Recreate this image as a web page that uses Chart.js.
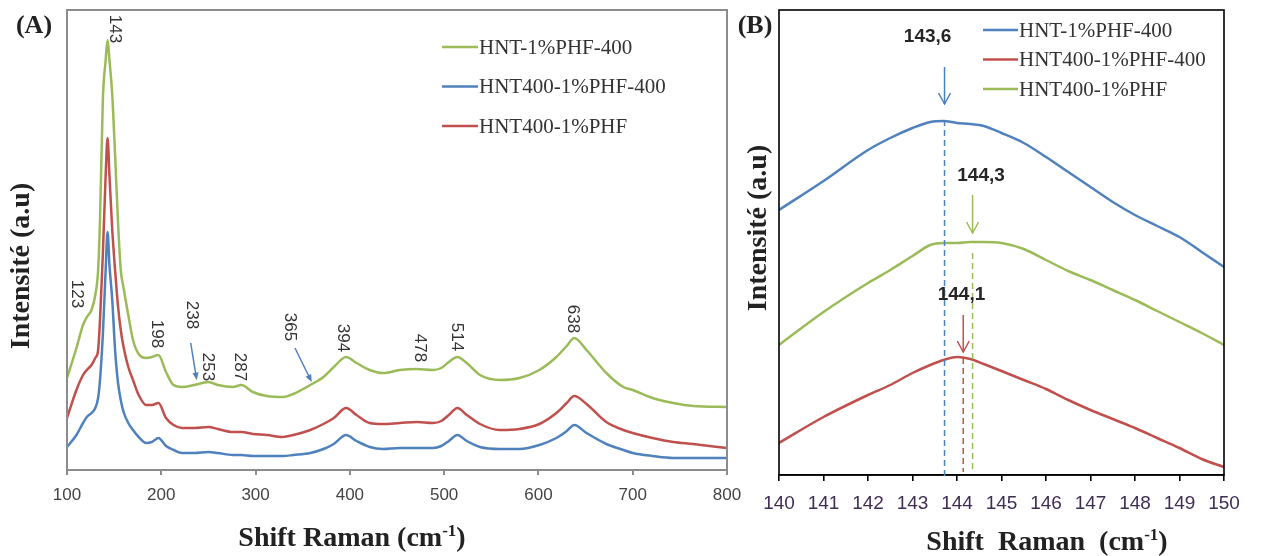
<!DOCTYPE html>
<html>
<head>
<meta charset="utf-8">
<script src="https://cdn.jsdelivr.net/npm/chart.js@4.4.1/dist/chart.umd.min.js"></script>
<style>
  html, body { margin: 0; padding: 0; background: #ffffff; }
  #wrap { position: relative; width: 1266px; height: 556px; overflow: hidden; }
  #wrap canvas { position: absolute; left: 0; top: 0; }
</style>
</head>
<body>
<div id="wrap">
  <canvas id="chartA" width="1266" height="556"></canvas>
  <canvas id="chartB" width="1266" height="556"></canvas>
</div>
<script>
// ---------- Panel (A) data ----------
const ramanShiftA = [100,110,117,121,126,130,133,135,138,141,143,145,148,151,154,157,160,165,170,176,184,190,197,205,213,222,235,250,260,276,285,297,312,329,340,358,372,383,396,407,421,435,453,471,488,497,505,514,524,538,559,580,601,619,630,638,651,672,690,700,721,743,764,800];
const hnt1Phf400A = [92,122,145,153,160,175,200,250,370,410,430,410,375,315,250,200,182,155,130,116,112,113,115,98,85,83,85,88,85,83,85,78,74,73,76,85,93,103,113,107,100,97,100,101,100,102,108,113,107,95,90,92,100,113,124,132,120,97,83,80,72,67,64,63];
const hnt400Phf400A = [23,35,47,53,57,62,72,90,135,200,238,205,170,120,88,70,58,47,40,33,27,28,32,24,20,17,17,18,17,15,15,14,14,14,15,17,21,26,35,29,23,21,22,22,22,24,29,35,29,23,21,21,25,32,39,45,37,26,20,17,14,12,12,12];
const hnt400PhfA = [52,80,95,100,105,112,120,150,215,295,332,295,240,200,165,140,123,103,90,75,65,65,67,52,45,42,42,43,41,38,38,36,35,33,35,40,46,52,62,55,47,46,47,48,47,49,55,62,55,46,40,41,46,57,67,74,66,48,40,37,32,28,26,22];
const seriesNamesA = ['HNT-1%PHF-400','HNT400-1%PHF-400','HNT400-1%PHF'];
const xTicksA = [100,200,300,400,500,600,700,800];
const peakLabelsA = ['143','123','198','238','253','287','365','394','478','514','638'];
const peakLabelXA = [150.9,110.6,195.4,232.6,249.5,283.5,336.5,392.7,474.4,513.6,636.6];
const peakLabelYA = [441,176,136,155,103,103,143,132,122,133,151];
const arrowFromXA = [231.2,341.8], arrowFromYA = [127,122];
const arrowToXA = [237.6,359.5],   arrowToYA = [90,88];

// ---------- Panel (B) data ----------
const ramanShiftB = [140,141,142,142.5,143,143.4,143.7,144,144.3,144.6,145,145.5,146,146.5,147,147.5,148,148.5,149,149.5,150];
const hnt1Phf400B = [265,294,325,337,347,353,354,352,351,349,342,332,318,303,288,273,260,249,238,223,208];
const hnt400Phf400B = [32,58,80,90,102,110,115,118,116,111,104,95,86,75,65,56,47,37,27,16,8];
const hnt400PhfB = [130,163,192,205,219,230,232,232,233,233,232,226,215,204,195,185,175,164,153,142,130];
const seriesNamesB = ['HNT-1%PHF-400','HNT400-1%PHF-400','HNT400-1%PHF'];
const xTicksB = [140,141,142,143,144,145,146,147,148,149,150];
const peakTextB = ['143,6','144,3','144,1'];
const peakShiftB = [143.72,144.35,144.14];     // dashed line positions
const peakTopB = [355,222,117];                // top of the dashed lines
const peakLabelXB = [143.34,144.54,144.1];
const peakLabelYB = [438,299,180];
const peakArrowTopB = [408,280,160];
const peakArrowTipB = [371,242,123];

const BLUE = '#4F81BD', RED = '#C0504D', GREEN = '#9BBB59';

function pts(xs, ys) { return xs.map((x, i) => ({ x: x, y: ys[i] })); }

function drawSupTitle(ctx, cx, cy, main, sup, tail, size, gap) {
  ctx.save();
  ctx.fillStyle = '#222';
  ctx.textBaseline = 'alphabetic';
  ctx.textAlign = 'left';
  const f1 = 'bold ' + size + 'px "Liberation Serif"';
  const f2 = 'bold ' + Math.round(size * 0.6) + 'px "Liberation Serif"';
  ctx.font = f1;
  const mainText = main.replace(/ /g, gap);
  const w1 = ctx.measureText(mainText).width;
  const w3 = ctx.measureText(tail).width;
  ctx.font = f2;
  const w2 = ctx.measureText(sup).width;
  let x = cx - (w1 + w2 + w3) / 2;
  const base = cy + size * 0.33;
  ctx.font = f1; ctx.fillText(mainText, x, base); x += w1;
  ctx.font = f2; ctx.fillText(sup, x, base - size * 0.38); x += w2;
  ctx.font = f1; ctx.fillText(tail, x, base);
  ctx.restore();
}

function drawRotated(ctx, text, x, y, angle, font, color) {
  ctx.save();
  ctx.translate(x, y);
  ctx.rotate(angle);
  ctx.font = font;
  ctx.fillStyle = color;
  ctx.textAlign = 'center';
  ctx.textBaseline = 'middle';
  ctx.fillText(text, 0, 0);
  ctx.restore();
}

function drawLegend(ctx, chart, cfg) {
  chart.data.datasets.forEach((ds, i) => {
    const y = cfg.y0 + i * cfg.dy;
    ctx.save();
    ctx.strokeStyle = ds.borderColor;
    ctx.lineWidth = 2.5;
    ctx.beginPath(); ctx.moveTo(cfg.x0, y); ctx.lineTo(cfg.x0 + cfg.len, y); ctx.stroke();
    ctx.font = cfg.font;
    ctx.fillStyle = '#333';
    ctx.textAlign = 'left';
    ctx.textBaseline = 'middle';
    ctx.fillText(ds.label, cfg.x0 + cfg.len + 1, y + 1);
    ctx.restore();
  });
}

const decoA = {
  id: 'decoA',
  afterDraw(chart) {
    const ctx = chart.ctx, a = chart.chartArea, xs = chart.scales.x, ys = chart.scales.y;
    ctx.save();
    ctx.strokeStyle = '#8c8c8c'; ctx.lineWidth = 2;
    ctx.strokeRect(a.left, a.top, a.right - a.left, a.bottom - a.top);
    ctx.restore();
    // peak labels
    peakLabelsA.forEach((t, i) => {
      drawRotated(ctx, t, xs.getPixelForValue(peakLabelXA[i]), ys.getPixelForValue(peakLabelYA[i]),
        Math.PI / 2, '17px "Liberation Sans"', '#333');
    });
    // arrows
    arrowFromXA.forEach((fx, i) => {
      const x1 = xs.getPixelForValue(fx), y1 = ys.getPixelForValue(arrowFromYA[i]);
      const x2 = xs.getPixelForValue(arrowToXA[i]), y2 = ys.getPixelForValue(arrowToYA[i]);
      const ang = Math.atan2(y2 - y1, x2 - x1);
      ctx.save();
      ctx.strokeStyle = BLUE; ctx.fillStyle = BLUE; ctx.lineWidth = 1.5;
      ctx.beginPath(); ctx.moveTo(x1, y1); ctx.lineTo(x2 - 5 * Math.cos(ang), y2 - 5 * Math.sin(ang)); ctx.stroke();
      ctx.beginPath();
      ctx.moveTo(x2, y2);
      ctx.lineTo(x2 - 8 * Math.cos(ang - 0.4), y2 - 8 * Math.sin(ang - 0.4));
      ctx.lineTo(x2 - 8 * Math.cos(ang + 0.4), y2 - 8 * Math.sin(ang + 0.4));
      ctx.closePath(); ctx.fill();
      ctx.restore();
    });
    drawLegend(ctx, chart, { x0: 442, len: 36, y0: 47, dy: 39.5, font: '21px "Liberation Serif"' });
    // titles
    ctx.save();
    ctx.font = 'bold 26px "Liberation Serif"'; ctx.fillStyle = '#222';
    ctx.textAlign = 'center'; ctx.textBaseline = 'middle';
    ctx.fillText('(A)', 34, 26);
    ctx.restore();
    drawRotated(ctx, 'Intensité (a.u)', 22, 266, -Math.PI / 2, 'bold 28px "Liberation Serif"', '#222');
    drawSupTitle(ctx, 352, 537, 'Shift Raman (cm', '-1', ')', 28, ' ');
  }
};

const decoB = {
  id: 'decoB',
  afterDraw(chart) {
    const ctx = chart.ctx, a = chart.chartArea, xs = chart.scales.x, ys = chart.scales.y;
    ctx.save();
    ctx.strokeStyle = '#000'; ctx.lineWidth = 1.6;
    ctx.strokeRect(a.left, a.top, a.right - a.left, a.bottom - a.top);
    ctx.restore();
    const colors = chart.data.datasets.map(d => d.borderColor);
    const order = [0, 2, 1]; // blue, green, red -> labels 143,6 / 144,3 / 144,1
    peakShiftB.forEach((px, i) => {
      const c = colors[order[i]];
      const x = xs.getPixelForValue(px);
      ctx.save();
      ctx.strokeStyle = c; ctx.lineWidth = 1.5; ctx.setLineDash([6, 4]);
      ctx.beginPath(); ctx.moveTo(x, ys.getPixelForValue(peakTopB[i])); ctx.lineTo(x, ys.getPixelForValue(i === 0 ? -3 : 3)); ctx.stroke();
      ctx.restore();
      const yTop = ys.getPixelForValue(peakArrowTopB[i]), yTip = ys.getPixelForValue(peakArrowTipB[i]);
      ctx.save();
      ctx.strokeStyle = c; ctx.lineWidth = 1.5;
      ctx.beginPath(); ctx.moveTo(x, yTop); ctx.lineTo(x, yTip); ctx.stroke();
      ctx.beginPath(); ctx.moveTo(x - 6, yTip - 11); ctx.lineTo(x, yTip); ctx.lineTo(x + 6, yTip - 11); ctx.stroke();
      ctx.restore();
      ctx.save();
      ctx.font = 'bold 19px "Liberation Sans"'; ctx.fillStyle = '#262626';
      ctx.textAlign = 'center'; ctx.textBaseline = 'middle';
      ctx.fillText(peakTextB[i], xs.getPixelForValue(peakLabelXB[i]), ys.getPixelForValue(peakLabelYB[i]));
      ctx.restore();
    });
    drawLegend(ctx, chart, { x0: 983, len: 35, y0: 30, dy: 29.5, font: '21px "Liberation Serif"' });
    ctx.save();
    ctx.font = 'bold 26px "Liberation Serif"'; ctx.fillStyle = '#222';
    ctx.textAlign = 'center'; ctx.textBaseline = 'middle';
    ctx.fillText('(B)', 755, 26);
    ctx.restore();
    drawRotated(ctx, 'Intensité (a.u)', 759, 228, -Math.PI / 2, 'bold 28px "Liberation Serif"', '#222');
    drawSupTitle(ctx, 1047, 541, 'Shift Raman (cm', '-1', ')', 28, '  ');
  }
};

function lineDs(label, xs, ys, color) {
  return { label: label, data: pts(xs, ys), borderColor: color, backgroundColor: color,
           borderWidth: 2.5, pointRadius: 0, cubicInterpolationMode: 'monotone', fill: false };
}

new Chart(document.getElementById('chartA'), {
  type: 'line',
  data: {
    datasets: [
      lineDs(seriesNamesA[0], ramanShiftA, hnt1Phf400A, GREEN),
      lineDs(seriesNamesA[1], ramanShiftA, hnt400Phf400A, BLUE),
      lineDs(seriesNamesA[2], ramanShiftA, hnt400PhfA, RED)
    ]
  },
  options: {
    responsive: false, animation: false, devicePixelRatio: 1,
    layout: { padding: { left: 67, top: 10, right: 539, bottom: 0 } },
    plugins: { legend: { display: false }, tooltip: { enabled: false } },
    scales: {
      x: {
        type: 'linear', min: 100, max: 800,
        afterFit(s) { s.height = 86; },
        afterBuildTicks(s) { s.ticks = xTicksA.map(v => ({ value: v })); },
        ticks: { font: { family: 'Liberation Sans', size: 17 }, color: '#444', padding: 10, maxRotation: 0 },
        grid: { drawOnChartArea: false, drawTicks: true, tickLength: 5, color: '#8c8c8c', lineWidth: 2 },
        border: { display: true, color: '#8c8c8c', width: 2 }
      },
      y: { display: false, min: 0, max: 460 }
    }
  },
  plugins: [decoA]
});

new Chart(document.getElementById('chartB'), {
  type: 'line',
  data: {
    datasets: [
      lineDs(seriesNamesB[0], ramanShiftB, hnt1Phf400B, BLUE),
      lineDs(seriesNamesB[1], ramanShiftB, hnt400Phf400B, RED),
      lineDs(seriesNamesB[2], ramanShiftB, hnt400PhfB, GREEN)
    ]
  },
  options: {
    responsive: false, animation: false, devicePixelRatio: 1,
    layout: { padding: { left: 779, top: 10, right: 42, bottom: 0 } },
    plugins: { legend: { display: false }, tooltip: { enabled: false } },
    scales: {
      x: {
        type: 'linear', min: 140, max: 150,
        afterFit(s) { s.height = 81; },
        afterBuildTicks(s) { s.ticks = xTicksB.map(v => ({ value: v })); },
        ticks: { font: { family: 'Liberation Sans', size: 19 }, color: '#3f2d55', padding: 11, maxRotation: 0 },
        grid: { drawOnChartArea: false, drawTicks: true, tickLength: 6, color: '#000', lineWidth: 1.6 },
        border: { display: true, color: '#000', width: 1.6 }
      },
      y: { display: false, min: 0, max: 465 }
    }
  },
  plugins: [decoB]
});
</script>
</body>
</html>
